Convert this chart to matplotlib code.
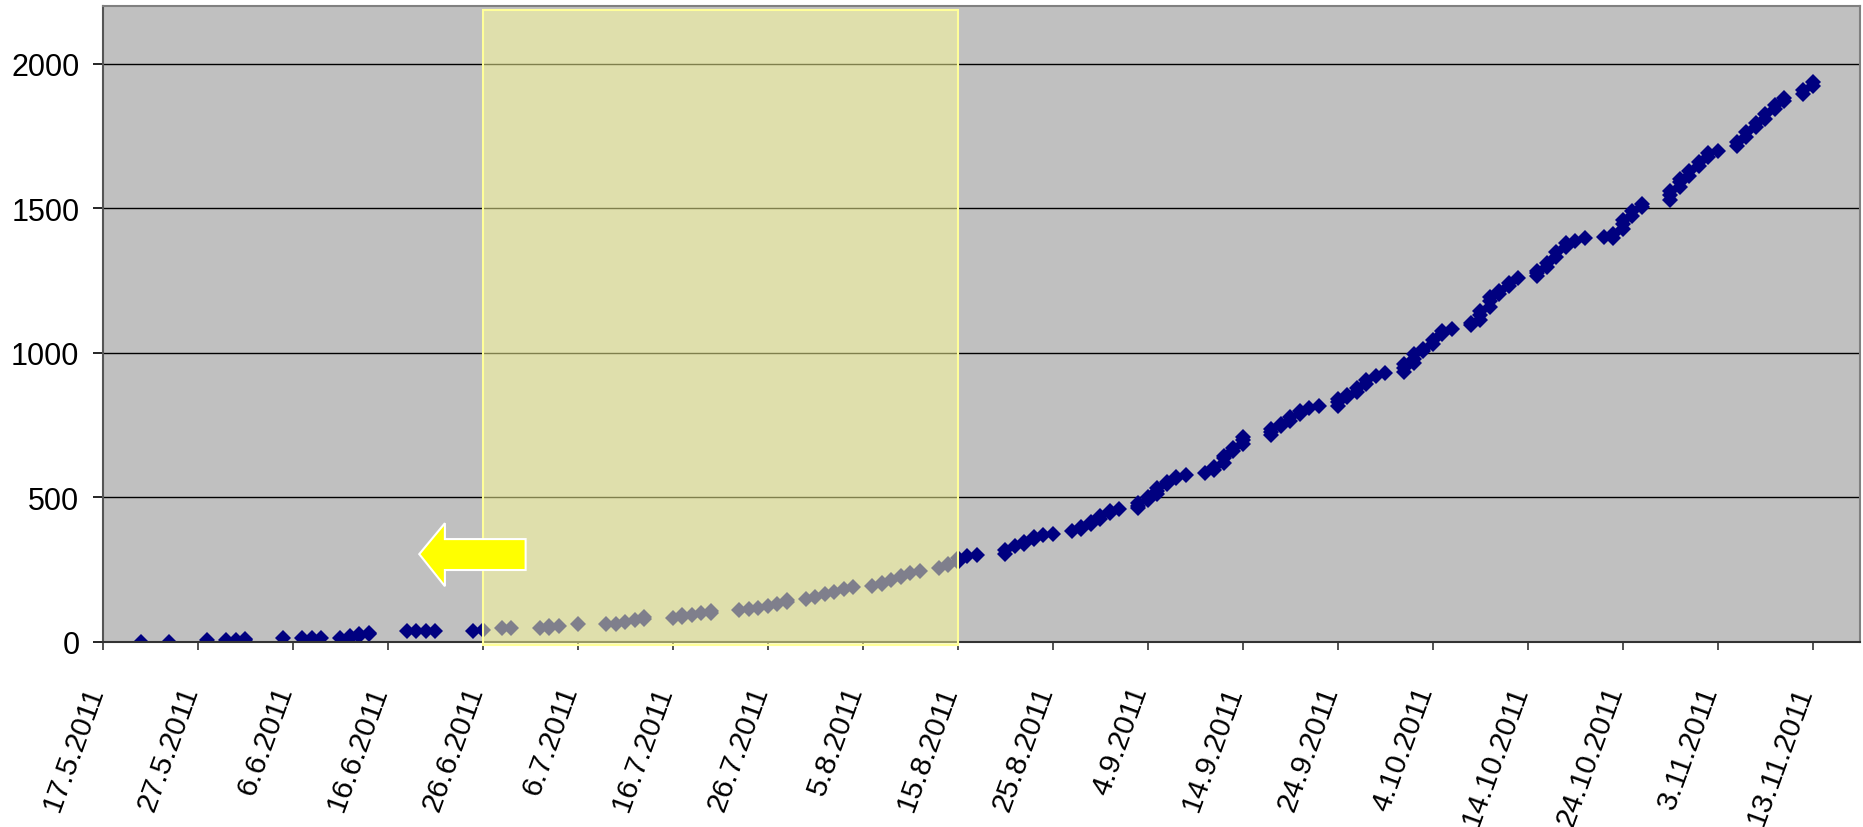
import numpy as np
import pandas as pd
import matplotlib
matplotlib.use("Agg")
import matplotlib.pyplot as plt
import matplotlib.dates as mdates
from matplotlib.patches import Rectangle, Polygon

# datos (fecha, valor acumulado)
fechas = [
    "21.5.2011", "24.5.2011", "28.5.2011", "30.5.2011", "31.5.2011",
    "1.6.2011", "1.6.2011", "5.6.2011", "7.6.2011", "8.6.2011", "9.6.2011",
    "11.6.2011", "12.6.2011", "12.6.2011", "13.6.2011", "13.6.2011",
    "14.6.2011", "14.6.2011", "18.6.2011", "19.6.2011", "20.6.2011",
    "21.6.2011", "25.6.2011", "26.6.2011", "28.6.2011", "29.6.2011",
    "2.7.2011", "3.7.2011", "3.7.2011", "4.7.2011", "6.7.2011", "9.7.2011",
    "10.7.2011", "11.7.2011", "12.7.2011", "13.7.2011", "13.7.2011",
    "16.7.2011", "17.7.2011", "17.7.2011", "18.7.2011", "19.7.2011",
    "20.7.2011", "20.7.2011", "23.7.2011", "24.7.2011", "25.7.2011",
    "26.7.2011", "27.7.2011", "28.7.2011", "28.7.2011", "30.7.2011",
    "31.7.2011",
    "1.8.2011", "2.8.2011", "3.8.2011", "4.8.2011", "6.8.2011", "7.8.2011",
    "7.8.2011", "8.8.2011", "9.8.2011", "9.8.2011", "10.8.2011",
    "11.8.2011", "13.8.2011", "14.8.2011", "14.8.2011", "15.8.2011",
    "15.8.2011", "16.8.2011", "17.8.2011", "20.8.2011", "20.8.2011",
    "21.8.2011", "22.8.2011", "22.8.2011", "23.8.2011", "23.8.2011",
    "24.8.2011", "25.8.2011", "27.8.2011", "28.8.2011", "28.8.2011",
    "29.8.2011", "29.8.2011", "30.8.2011", "30.8.2011", "31.8.2011",
    "31.8.2011",
    "1.9.2011", "3.9.2011", "3.9.2011", "3.9.2011", "4.9.2011", "4.9.2011",
    "5.9.2011", "5.9.2011", "5.9.2011", "6.9.2011", "6.9.2011", "7.9.2011",
    "7.9.2011", "8.9.2011", "10.9.2011", "11.9.2011", "11.9.2011",
    "12.9.2011", "12.9.2011", "12.9.2011", "13.9.2011", "13.9.2011",
    "14.9.2011", "14.9.2011", "14.9.2011", "17.9.2011", "17.9.2011",
    "17.9.2011", "18.9.2011", "18.9.2011", "19.9.2011", "19.9.2011",
    "20.9.2011", "20.9.2011", "21.9.2011", "22.9.2011", "24.9.2011",
    "24.9.2011", "24.9.2011", "25.9.2011", "25.9.2011", "26.9.2011",
    "26.9.2011", "27.9.2011", "27.9.2011", "28.9.2011", "29.9.2011",
    "1.10.2011", "1.10.2011", "1.10.2011", "2.10.2011", "2.10.2011",
    "2.10.2011", "3.10.2011", "3.10.2011", "4.10.2011", "4.10.2011",
    "5.10.2011", "5.10.2011", "6.10.2011", "8.10.2011", "8.10.2011",
    "9.10.2011", "9.10.2011", "9.10.2011", "10.10.2011", "10.10.2011",
    "10.10.2011", "11.10.2011", "11.10.2011", "12.10.2011", "12.10.2011",
    "13.10.2011", "15.10.2011", "15.10.2011", "15.10.2011", "16.10.2011",
    "16.10.2011", "17.10.2011", "17.10.2011", "18.10.2011", "18.10.2011",
    "19.10.2011", "20.10.2011", "22.10.2011", "23.10.2011", "23.10.2011",
    "24.10.2011", "24.10.2011", "24.10.2011", "25.10.2011", "25.10.2011",
    "26.10.2011", "26.10.2011", "29.10.2011", "29.10.2011", "29.10.2011",
    "30.10.2011", "30.10.2011", "30.10.2011", "31.10.2011", "31.10.2011",
    "1.11.2011", "1.11.2011", "2.11.2011", "2.11.2011", "3.11.2011",
    "5.11.2011", "5.11.2011", "6.11.2011", "6.11.2011", "7.11.2011",
    "7.11.2011", "8.11.2011", "8.11.2011", "9.11.2011", "9.11.2011",
    "10.11.2011", "10.11.2011", "12.11.2011", "12.11.2011", "13.11.2011",
    "13.11.2011",
]
valores = [
    1, 1, 6, 6, 7,
    8, 12, 14, 14, 15, 15,
    15, 15, 20, 22, 28,
    28, 32, 37, 37, 37,
    37, 38, 40, 47, 47,
    47, 50, 55, 55, 63, 61,
    61, 70, 75, 78, 86,
    84, 86, 92, 93, 99,
    102, 108, 110, 113, 119,
    124, 132, 138, 145, 150,
    157,
    165, 173, 182, 190, 192, 200,
    205, 215, 225, 230, 238,
    246, 256, 265, 270, 278,
    292, 298, 302, 305, 318,
    331, 340, 346, 357, 362,
    369, 375, 384, 392, 398,
    407, 415, 425, 435, 445,
    452,
    460, 462, 472, 482, 490, 500,
    512, 522, 532, 545, 555, 568,
    572, 578, 585, 595, 605,
    620, 635, 645, 660, 672,
    685, 698, 710, 715, 728,
    738, 748, 755, 765, 778,
    790, 798, 808, 818, 818,
    830, 842, 849, 855, 866,
    880, 893, 908, 919, 931,
    933, 947, 962, 965, 980,
    995, 1005, 1015, 1030, 1045,
    1065, 1075, 1083, 1097, 1105,
    1115, 1130, 1145, 1160, 1178,
    1192, 1205, 1215, 1232, 1242,
    1258, 1265, 1275, 1285, 1298,
    1312, 1332, 1348, 1368, 1380,
    1388, 1398, 1400, 1398, 1410,
    1430, 1447, 1460, 1475, 1490,
    1505, 1515, 1530, 1545, 1560,
    1575, 1590, 1600, 1612, 1628,
    1645, 1660, 1678, 1690, 1700,
    1715, 1730, 1748, 1765, 1780,
    1795, 1810, 1825, 1845, 1858,
    1872, 1883, 1895, 1910, 1925,
    1938,
]

etiquetas_x = ["17.5.2011", "27.5.2011", "6.6.2011", "16.6.2011", "26.6.2011",
               "6.7.2011", "16.7.2011", "26.7.2011", "5.8.2011", "15.8.2011",
               "25.8.2011", "4.9.2011", "14.9.2011", "24.9.2011", "4.10.2011",
               "14.10.2011", "24.10.2011", "3.11.2011", "13.11.2011"]
ticks_y = [0, 500, 1000, 1500, 2000]

# periodo resaltado en amarillo
inicio_zona = "26.6.2011"
fin_zona = "15.8.2011"

fmt = "%d.%m.%Y"
x = pd.to_datetime(fechas, format=fmt)
x_ticks = pd.to_datetime(etiquetas_x, format=fmt)
x0 = mdates.date2num(pd.to_datetime(inicio_zona, format=fmt))
x1 = mdates.date2num(pd.to_datetime(fin_zona, format=fmt))
dia0 = mdates.date2num(x_ticks[0])

plt.rcParams['font.family'] = ['Liberation Sans', 'DejaVu Sans']

fig = plt.figure(figsize=(18.63, 8.28), dpi=100)
ax = fig.add_axes([103 / 1863, 1 - 643 / 828, (1860 - 103) / 1863, (643 - 7) / 828])
ax.set_facecolor('#C0C0C0')

ax.plot(x, valores, 'D', color='#000080', ms=8, mew=0, zorder=2)

ax.set_xlim(dia0, dia0 + 185)
ax.set_ylim(0, 2200)

# rectangulo amarillo semitransparente
zona = Rectangle((x0, -10), x1 - x0, 2195, facecolor='#FFFF99', alpha=0.5,
                 edgecolor='none', zorder=3, clip_on=False)
ax.add_patch(zona)
borde = Rectangle((x0, -10), x1 - x0, 2195, fill=False, edgecolor='#FFFF99',
                  lw=1.5, zorder=4, clip_on=False)
ax.add_patch(borde)

# flecha amarilla apuntando a la izquierda
flecha = np.array([
    [33.3, 304], [36.0, 411], [36.0, 356], [44.5, 356],
    [44.5, 249], [36.0, 249], [36.0, 193]
])
flecha[:, 0] += dia0
ax.add_patch(Polygon(flecha, closed=True, facecolor='#FFFF00',
                     edgecolor='white', lw=1.5, zorder=5))

# rejilla y ejes
ax.set_yticks(ticks_y)
ax.yaxis.grid(True, color='black', lw=1.0)
ax.set_axisbelow(True)
ax.set_xticks(x_ticks)
ax.set_xticklabels(etiquetas_x, rotation=70, ha='right', va='baseline',
                   rotation_mode='anchor')
ax.tick_params(axis='x', direction='out', length=6, width=1.2,
               color='#333333', labelsize=21.5, pad=28)
ax.tick_params(axis='y', direction='out', length=7, width=1.2,
               color='black', labelsize=22, pad=10)

ax.spines['left'].set_color('#555555')
ax.spines['bottom'].set_color('#333333')
ax.spines['top'].set_color('#808080')
ax.spines['right'].set_color('#808080')
for s in ax.spines.values():
    s.set_linewidth(1.5)

fig.savefig('out.png', dpi=100)
